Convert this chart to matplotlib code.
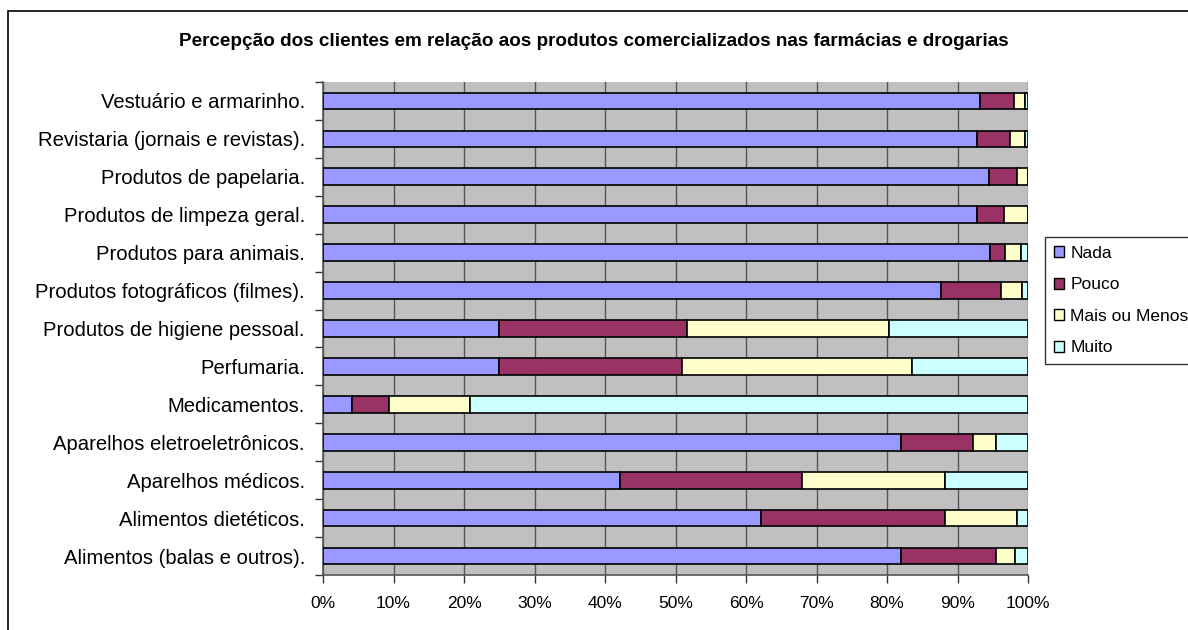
import numpy as np
import matplotlib.pyplot as plt
from matplotlib.patches import Rectangle

plt.rcParams['font.family'] = ['Liberation Sans', 'DejaVu Sans']

categories = [
    "Alimentos (balas e outros).",
    "Alimentos dietéticos.",
    "Aparelhos médicos.",
    "Aparelhos eletroeletrônicos.",
    "Medicamentos.",
    "Perfumaria.",
    "Produtos de higiene pessoal.",
    "Produtos fotográficos (filmes).",
    "Produtos para animais.",
    "Produtos de limpeza geral.",
    "Produtos de papelaria.",
    "Revistaria (jornais e revistas).",
    "Vestuário e armarinho.",
]

series_names = ["Nada", "Pouco", "Mais ou Menos", "Muito"]
nada = [82.0, 62.1, 42.1, 82.0, 4.1, 25.0, 24.9, 87.6, 94.6, 92.7, 94.4, 92.7, 93.2]
pouco = [13.4, 26.1, 25.8, 10.2, 5.3, 25.9, 26.7, 8.5, 2.2, 3.9, 4.0, 4.8, 4.8]
mais_ou_menos = [2.8, 10.3, 20.3, 3.2, 11.5, 32.7, 28.7, 3.1, 2.2, 3.4, 1.6, 2.1, 1.6]
muito = [1.8, 1.5, 11.8, 4.6, 79.1, 16.4, 19.7, 0.8, 1.0, 0.0, 0.0, 0.4, 0.4]
colors = ["#9999FF", "#993366", "#FFFFCC", "#CCFFFF"]
title = "Percepção dos clientes em relação aos produtos comercializados nas farmácias e drogarias"
xticks = np.arange(0, 101, 10)

W, H = 1188, 630
fig = plt.figure(figsize=(W / 100, H / 100), dpi=100)

# outer chart frame
fig.patches.append(Rectangle((8 / W, -0.05), 1.2, 1 - 11 / H + 0.05,
                             transform=fig.transFigure, fill=False,
                             edgecolor="black", linewidth=1.2))

ax = fig.add_axes([323 / W, 1 - 575 / H, (1028 - 323) / W, (575 - 82) / H])
ax.set_facecolor("#C0C0C0")

y = np.arange(len(categories))
left = np.zeros(len(categories))
for name, vals, c in zip(series_names, [nada, pouco, mais_ou_menos, muito], colors):
    vals = np.array(vals)
    ax.barh(y, vals, left=left, height=0.44, color=c, edgecolor="black",
            linewidth=1.2, label=name, zorder=3)
    left += vals

ax.set_xlim(0, 100)
ax.set_ylim(-0.5, len(categories) - 0.5)
ax.set_xticks(xticks)
ax.set_xticklabels([f"{v}%" for v in xticks], fontsize=12.5)
ax.grid(axis="x", color="#555555", linewidth=1.0, zorder=1)
ax.set_axisbelow(True)

ax.set_yticks(y)
ax.set_yticklabels(categories, fontsize=14.6)
ax.set_yticks(np.arange(-0.5, len(categories), 1), minor=True)
ax.tick_params(axis="y", which="major", length=0, pad=13)
ax.tick_params(axis="y", which="minor", length=6, width=1, color="#333333", direction="out")
ax.tick_params(axis="x", length=6, width=1, color="#333333", direction="out", pad=9)

for side in ["top", "right"]:
    ax.spines[side].set_visible(False)
ax.spines["left"].set_color("#555555")
ax.spines["bottom"].set_color("#555555")
ax.spines["left"].set_linewidth(1.2)
ax.spines["bottom"].set_linewidth(1.2)

fig.text(594 / W, 1 - 41 / H, title, ha="center", va="center",
         fontsize=13.6, fontweight="bold")

leg = fig.legend(loc="upper left", bbox_to_anchor=(1045 / W, 1 - 237 / H),
                 frameon=True, fancybox=False, edgecolor="black",
                 fontsize=12.5, handlelength=0.6, handleheight=0.6,
                 handletextpad=0.35, labelspacing=0.95, borderpad=0.5,
                 borderaxespad=0)
leg.get_frame().set_linewidth(1.0)
for h in leg.legend_handles:
    h.set_linewidth(1.0)

fig.savefig("out.png", dpi=100)
